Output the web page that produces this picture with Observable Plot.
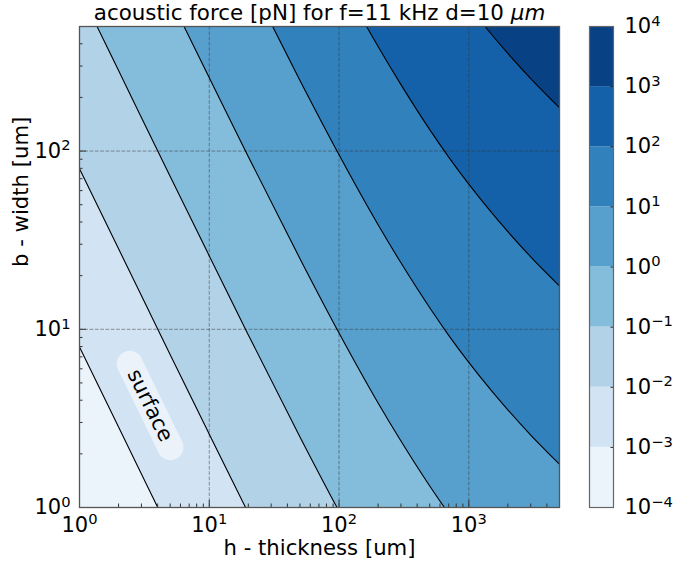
<!DOCTYPE html>
<html>
<head>
<meta charset="utf-8">
<script src="https://cdn.jsdelivr.net/npm/d3@7"></script>
<script src="https://cdn.jsdelivr.net/npm/@observablehq/plot@0.6"></script>
<style>
  body { margin: 0; background: #fff; }
  #wrap { position: relative; width: 673px; height: 564px; }
  #wrap svg { position: absolute; left: 0; top: 0; }
</style>
</head>
<body>
<div id="wrap"></div>
<script>
// h - thickness [um] sample positions along each contour line
const thickness = [1, 2, 5, 10, 20, 50, 100, 200, 300, 500, 700, 1000, 1500, 2000, 3000, 5000];

// b - width [um] of each iso-force contour (extended past the frame)
const width_1e_3 = [7.96, 2.83, 0.719, 0.258, 0.0930, 0.0249, 0.00953, 0.00386, 0.00236, 0.00132, 0.000925, 0.000652, 0.000451, 0.000353, 0.000255, 0.000175];
const width_1e_2 = [79.6, 28.3, 7.19, 2.58, 0.930, 0.249, 0.0953, 0.0386, 0.0236, 0.0132, 0.00925, 0.00652, 0.00451, 0.00353, 0.00255, 0.00175];
const width_1e_1 = [796, 283, 71.9, 25.8, 9.30, 2.49, 0.953, 0.386, 0.236, 0.132, 0.0925, 0.0652, 0.0451, 0.0353, 0.0255, 0.0175];
const width_1e0  = [7960, 2830, 719, 258, 93.0, 24.9, 9.53, 3.86, 2.36, 1.32, 0.925, 0.652, 0.451, 0.353, 0.255, 0.175];
const width_1e1  = [79600, 28300, 7190, 2580, 930, 249, 95.3, 38.6, 23.6, 13.2, 9.25, 6.52, 4.51, 3.53, 2.55, 1.75];
const width_1e2  = [796000, 283000, 71900, 25800, 9300, 2490, 953, 386, 236, 132, 92.5, 65.2, 45.1, 35.3, 25.5, 17.5];
const width_1e3  = [7960000, 2830000, 719000, 258000, 93000, 24900, 9530, 3860, 2360, 1320, 925, 652, 451, 353, 255, 175];

const contourLevels = [1e-3, 1e-2, 1e-1, 1, 10, 100, 1000];
const contourWidths = [width_1e_3, width_1e_2, width_1e_1, width_1e0, width_1e1, width_1e2, width_1e3];

// colour bands (low -> high), 10^-4 ... 10^4
const bandEdges = [1e-4, 1e-3, 1e-2, 1e-1, 1, 10, 100, 1000, 1e4];
const bandColors = ["#ebf3fb", "#d2e3f3", "#b2d2e8", "#84bcdb", "#57a0ce", "#3181bd", "#1561a9", "#084184"];

const xMajor = [1, 10, 100, 1000];
const xMinor = [2, 3, 4, 5, 6, 7, 8, 9, 20, 30, 40, 50, 60, 70, 80, 90, 200, 300, 400, 500, 600, 700, 800, 900, 2000, 3000, 4000, 5000];
const yMajor = [1, 10, 100];
const yMinor = [2, 3, 4, 5, 6, 7, 8, 9, 20, 30, 40, 50, 60, 70, 80, 90, 200, 300, 400, 500];

const titleText = "acoustic force [pN] for f=11 kHz d=10 μm";
const xLabel = "h - thickness [um]";
const yLabel = "b - width [um]";
const annotation = [{h: 3.5, b: 3.74, text: "surface"}];
const annotationBox = [{h: 2.44, b: 6.40}, {h: 5.02, b: 2.18}];

// ---- build tables ----
const contourRows = contourLevels.flatMap((lv, i) =>
  thickness.map((h, j) => ({level: lv, h, b: contourWidths[i][j]})));
const bands = bandColors.map((c, i) => ({lo: bandEdges[i], hi: bandEdges[i + 1], color: c}));

const sup = d => "10^" + Math.round(Math.log10(d));
const blank = () => "";
const FONT = "DejaVu Sans";

const main = Plot.plot({
  width: 673, height: 564,
  marginLeft: 79, marginRight: 114, marginTop: 26, marginBottom: 57,
  style: {fontFamily: FONT, fontSize: "21px", background: "white", overflow: "visible"},
  x: {type: "log", domain: [1, 5000], label: null},
  y: {type: "log", domain: [1, 500], label: null},
  marks: [
    Plot.frame({fill: bandColors[0]}),
    ...contourLevels.map((lv, i) =>
      Plot.areaY(contourRows.filter(d => d.level === lv), {
        x: "h", y1: "b", y2: () => 1e9, fill: bandColors[i + 1], curve: "monotone-x", clip: true
      })),
    Plot.ruleX([10, 100, 1000], {stroke: "#333", strokeOpacity: 0.55, strokeWidth: 0.9, strokeDasharray: "3.7,1.6"}),
    Plot.ruleY([10, 100], {stroke: "#333", strokeOpacity: 0.55, strokeWidth: 0.9, strokeDasharray: "3.7,1.6"}),
    Plot.line(contourRows, {x: "h", y: "b", z: "level", stroke: "#000", strokeWidth: 1.1, curve: "monotone-x", clip: true}),
    Plot.line(annotationBox, {x: "h", y: "b", stroke: "white", strokeOpacity: 0.55, strokeWidth: 26, strokeLinecap: "round"}),
    Plot.text(annotation, {x: "h", y: "b", text: "text", rotate: 64, fontSize: 21, fill: "#000"}),
    Plot.axisX({ticks: xMajor, tickSize: 0, tickPadding: 9.5, tickFormat: sup, label: null}),
    Plot.axisX({ticks: xMajor, tickSize: -7, tickFormat: blank, label: null, stroke: "#333"}),
    Plot.axisX({ticks: xMinor, tickSize: -3.5, tickFormat: blank, label: null, stroke: "#333"}),
    Plot.axisY({ticks: yMajor, tickSize: 0, tickPadding: 9, tickFormat: sup, label: null}),
    Plot.axisY({ticks: yMajor, tickSize: -7, tickFormat: blank, label: null, stroke: "#333"}),
    Plot.axisY({ticks: yMinor, tickSize: -3.5, tickFormat: blank, label: null, stroke: "#333"}),
    Plot.frame({stroke: "#555", strokeWidth: 1.3}),
    Plot.text([titleText], {frameAnchor: "top", dy: -13.5, fontSize: 21.4, lineAnchor: "middle"}),
    Plot.text([xLabel], {frameAnchor: "bottom", dy: 40.5, fontSize: 21.2, lineAnchor: "middle"}),
    Plot.text([yLabel], {frameAnchor: "left", dx: -58, rotate: -90, fontSize: 21.2, lineAnchor: "middle"})
  ]
});

const bar = Plot.plot({
  width: 673, height: 564,
  marginLeft: 589, marginRight: 60, marginTop: 26, marginBottom: 57,
  style: {fontFamily: FONT, fontSize: "21px", background: "transparent", overflow: "visible"},
  x: {domain: [0, 1], axis: null},
  y: {type: "log", domain: [1e-4, 1e4], axis: null},
  color: {type: "identity"},
  marks: [
    Plot.rect(bands, {x1: () => 0, x2: () => 1, y1: "lo", y2: "hi", fill: "color"}),
    Plot.axisY({anchor: "right", ticks: bandEdges, tickSize: 0, tickPadding: 11, tickFormat: sup, label: null}),
    Plot.axisY({anchor: "right", ticks: bandEdges.slice(1, -1), tickSize: -3.5, tickFormat: blank, label: null, stroke: "#222"}),
    Plot.frame({stroke: "#666", strokeWidth: 1.2})
  ]
});

const ns = "http://www.w3.org/2000/svg";
function superscripts(svg) {
  svg.querySelectorAll("text").forEach(t => {
    const m = t.textContent.match(/^10\^(-?\d+)$/);
    if (!m) return;
    t.textContent = "";
    const base = document.createElementNS(ns, "tspan");
    base.textContent = "10";
    const s = document.createElementNS(ns, "tspan");
    s.textContent = m[1].replace("-", "\u2212");
    s.setAttribute("font-size", "14.7");
    s.setAttribute("dy", "-7.5");
    t.appendChild(base); t.appendChild(s);
  });
}
superscripts(main); superscripts(bar);
main.querySelectorAll("text").forEach(t => {
  if (t.textContent === titleText) {
    t.textContent = "";
    t.style.whiteSpace = "pre";
    const a = document.createElementNS(ns, "tspan");
    a.textContent = "acoustic force [pN] for f=11 kHz d=10 ";
    const b = document.createElementNS(ns, "tspan");
    b.textContent = "μm";
    b.setAttribute("font-style", "italic");
    t.appendChild(a); t.appendChild(b);
  }
});
document.getElementById("wrap").append(main, bar);
</script>
</body>
</html>
